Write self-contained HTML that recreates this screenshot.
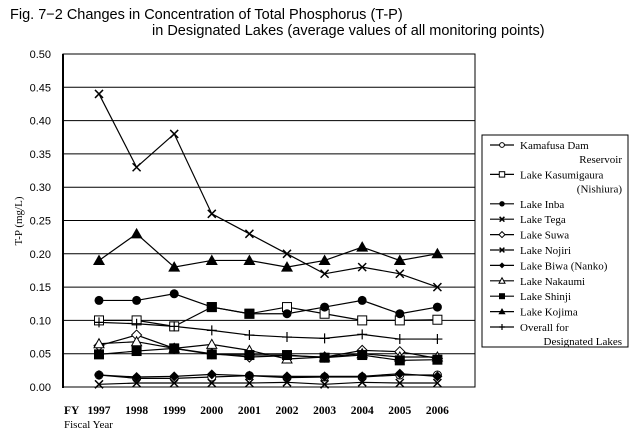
<!DOCTYPE html>
<html><head><meta charset="utf-8"><style>
body{margin:0;background:#fff;}
svg{display:block;font-family:"Liberation Sans",sans-serif;}
.s{font-family:"Liberation Serif",serif;}
</style></head><body>
<svg id="c" width="630" height="436" viewBox="0 0 630 436" xmlns="http://www.w3.org/2000/svg">
<text x="10" y="19" font-size="14.5">Fig. 7−2  Changes in Concentration of Total Phosphorus (T-P)</text>
<text x="152" y="35" font-size="14.5">in Designated Lakes (average values of all monitoring points)</text>
<g id="grid"></g>
<rect x="63" y="54" width="412" height="333" fill="none" stroke="#000" stroke-width="1"/>
<line x1="63" y1="54" x2="63" y2="388" stroke="#000" stroke-width="2"/>
<text class="s" x="22" y="221" font-size="11" transform="rotate(-90 22 221)" text-anchor="middle">T-P (mg/L)</text>
<g id="xl" class="s" font-size="11.5" font-weight="bold"></g>
<text class="s" x="64" y="414" font-size="11.5" font-weight="bold">FY</text>
<text class="s" x="64" y="428" font-size="11">Fiscal Year</text>
<g id="series"></g>
<rect x="482" y="135" width="146" height="212" fill="#fff" stroke="#000"/>
<g id="leg" class="s" font-size="11"></g>
</svg>
<script>
const NS="http://www.w3.org/2000/svg";
function el(p,t,a,txt){const e=document.createElementNS(NS,t);for(const k in a)e.setAttribute(k,a[k]);if(txt!=null)e.textContent=txt;p.appendChild(e);return e;}
const Y=v=>387-666*v, X=i=>99+i*37.6;
const g=document.getElementById('grid');
for(let i=0;i<=10;i++){const v=i*0.05,y=Y(v);el(g,'line',{x1:63,x2:475,y1:y,y2:y,stroke:'#000','stroke-width':1});
el(g,'text',{x:51,y:y+4,'font-size':11,'text-anchor':'end'},v.toFixed(2));}
const xl=document.getElementById('xl');
for(let i=0;i<10;i++)el(xl,'text',{x:X(i),y:414,'text-anchor':'middle'},1997+i);
function mk(p,t,x,y,s){s=s||1;
 switch(t){
 case 'oc':el(p,'circle',{cx:x,cy:y,r:4*s,fill:'#fff',stroke:'#000'});break;
 case 'fc':el(p,'circle',{cx:x,cy:y,r:4.5*s,fill:'#000'});break;
 case 'os':el(p,'rect',{x:x-4.5*s,y:y-4.5*s,width:9*s,height:9*s,fill:'#fff',stroke:'#000'});break;
 case 'fs':el(p,'rect',{x:x-5*s,y:y-5*s,width:10*s,height:10*s,fill:'#000'});break;
 case 'x':el(p,'path',{d:`M${x-4*s} ${y-4*s}L${x+4*s} ${y+4*s}M${x+4*s} ${y-4*s}L${x-4*s} ${y+4*s}`,stroke:'#000','stroke-width':1.5});break;
 case 'od':el(p,'path',{d:`M${x} ${y-5*s}L${x+5*s} ${y}L${x} ${y+5*s}L${x-5*s} ${y}Z`,fill:'#fff',stroke:'#000'});break;
 case 'fd':el(p,'path',{d:`M${x} ${y-5*s}L${x+5*s} ${y}L${x} ${y+5*s}L${x-5*s} ${y}Z`,fill:'#000'});break;
 case 'ot':el(p,'path',{d:`M${x} ${y-5*s}L${x+5*s} ${y+4*s}L${x-5*s} ${y+4*s}Z`,fill:'#fff',stroke:'#000'});break;
 case 'ft':el(p,'path',{d:`M${x} ${y-6*s}L${x+6*s} ${y+4.5*s}L${x-6*s} ${y+4.5*s}Z`,fill:'#000'});break;
 case 'p':el(p,'path',{d:`M${x-5*s} ${y}L${x+5*s} ${y}M${x} ${y-5*s}L${x} ${y+5*s}`,stroke:'#000','stroke-width':1.2});break;}}
const S=[
['Kamafusa Dam','Reservoir','oc',[.018,.013,.013,.015,.017,.014,.015,.015,.018,.018]],
['Lake Kasumigaura','(Nishiura)','os',[.10,.10,.091,.12,.11,.12,.11,.10,.10,.101]],
['Lake Inba',null,'fc',[.13,.13,.14,.12,.11,.11,.12,.13,.11,.12]],
['Lake Tega',null,'x',[.44,.33,.38,.26,.23,.20,.17,.18,.17,.15]],
['Lake Suwa',null,'od',[.062,.078,.058,.050,.045,.047,.045,.055,.053,.043]],
['Lake Nojiri',null,'x',[.004,.006,.006,.006,.006,.007,.004,.007,.006,.006]],
['Lake Biwa (Nanko)',null,'fd',[.018,.015,.016,.019,.017,.016,.016,.016,.020,.016]],
['Lake Nakaumi',null,'ot',[.065,.068,.058,.064,.055,.042,.045,.050,.045,.045]],
['Lake Shinji',null,'fs',[.049,.054,.058,.049,.048,.048,.044,.048,.040,.041]],
['Lake Kojima',null,'ft',[.19,.23,.18,.19,.19,.18,.19,.21,.19,.20]],
['Overall for','Designated Lakes','p',[.097,.095,.091,.085,.078,.075,.073,.079,.072,.072]]];
const sg=document.getElementById('series');
S.forEach(s=>{el(sg,'polyline',{points:s[3].map((v,i)=>X(i)+','+Y(v)).join(' '),fill:'none',stroke:'#000','stroke-width':1.2});});
S.forEach(s=>{s[3].forEach((v,i)=>mk(sg,s[2],X(i),Y(v)));});
mk(sg,'fs',X(3),Y(.12));mk(sg,'fs',X(4),Y(.11));
const lg=document.getElementById('leg');let y=149;
S.forEach(s=>{el(lg,'line',{x1:490,x2:514,y1:y-4,y2:y-4,stroke:'#000','stroke-width':1.2});mk(lg,s[2],502,y-4,0.6);
 el(lg,'text',{x:520,y:y},s[0]);if(s[1]){y+=14;el(lg,'text',{x:622,y:y,'text-anchor':'end'},s[1]);}y+=15.4;});
</script>
</body></html>
